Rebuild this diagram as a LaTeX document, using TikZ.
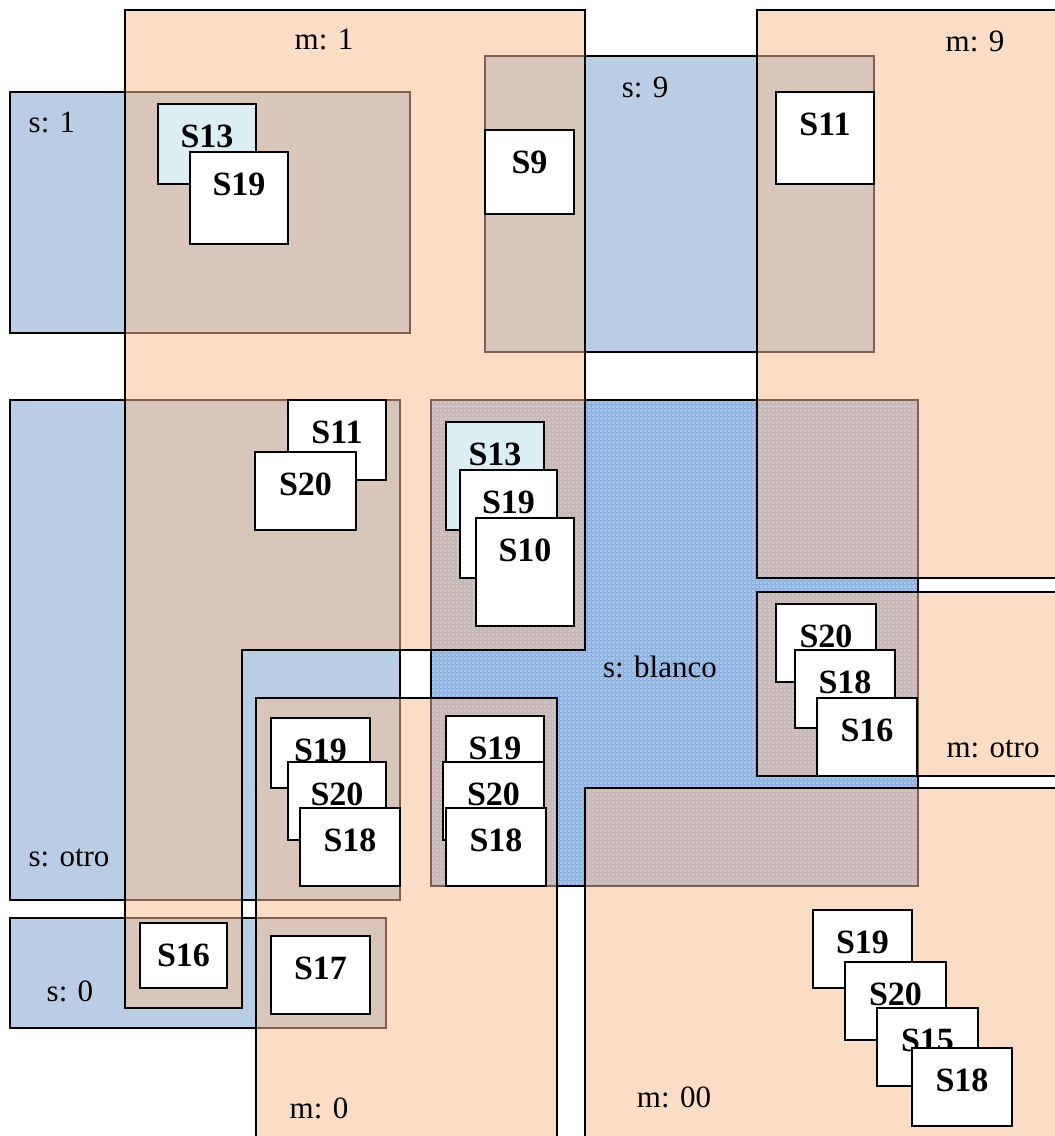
\documentclass[tikz,border=0pt]{standalone}
\usepackage{fontspec}
\setmainfont{Liberation Serif}
\usetikzlibrary{patterns}

% fine checker texture used for the "s: blanco" zone
\pgfdeclarepatternformonly{checks}{\pgfpointorigin}{\pgfqpoint{4pt}{4pt}}{\pgfqpoint{4pt}{4pt}}{%
  \pgfpathrectangle{\pgfpointorigin}{\pgfqpoint{2pt}{2pt}}%
  \pgfpathrectangle{\pgfqpoint{2pt}{2pt}}{\pgfqpoint{2pt}{2pt}}%
  \pgfusepath{fill}}

\begin{document}
\begin{tikzpicture}[x=1pt,y=-1pt,line join=miter]
  % Zones: m (peach), s (blue), overlaps (brown).
  \definecolor{mzone}{HTML}{FBDCC5}
  \definecolor{szone}{HTML}{B9CDE5}
  \definecolor{both}{HTML}{D9C5BA}
  \definecolor{bothline}{HTML}{7F6050}
  \definecolor{blanco}{HTML}{8AB0E0}
  \definecolor{blancodot}{HTML}{B7CFEE}
  \definecolor{bothhatch}{HTML}{C4B6BA}
  \definecolor{bothdot}{HTML}{DCC8BC}
  \definecolor{cardcyan}{HTML}{DBEEF4}
  \tikzset{
    card/.style={draw=black, line width=2pt, fill=white, anchor=north west,
      inner sep=0pt, outer sep=0pt},
    cardtxt/.style={anchor=base, yshift=-43.5pt, inner sep=0pt,
      font=\fontsize{34}{40}\selectfont\bfseries},
    zonetxt/.style={anchor=base, inner sep=0pt, font=\fontsize{31}{36}\selectfont}
  }
  \clip (0,0) rectangle (1055,1136);

  \def\mOne{(125,10) -- (585,10) -- (585,650) -- (242,650) -- (242,1008) -- (125,1008) -- cycle}
  \def\mNine{(757,10) rectangle (1070,578)}
  \def\mOtro{(757,592) rectangle (1070,776)}
  \def\mCero{(256,698) rectangle (557,1150)}
  \def\mCeroCero{(585,788) rectangle (1070,1150)}
  \def\sOne{(10,92) rectangle (410,333)}
  \def\sNine{(485,56) rectangle (874,352)}
  \def\sOtro{(10,400) rectangle (400,900)}
  \def\sCero{(10,918) rectangle (386,1028)}
  \def\sBlanco{(431,400) rectangle (918,886)}

  \fill[mzone] \mOne \mNine \mOtro \mCero \mCeroCero;
  \fill[szone] \sOne \sNine \sOtro \sCero;
  \fill[blanco] \sBlanco;
  \fill[pattern=checks, pattern color=blancodot] \sBlanco;
  \draw[line width=2pt] \sOne \sNine \sOtro \sCero \sBlanco;

  % where an s zone lies inside an m zone
  \begin{scope}
    \clip \mOne \mNine \mOtro \mCero \mCeroCero;
    \fill[both] \sOne \sNine \sOtro \sCero;
    \fill[bothhatch] \sBlanco;
    \fill[pattern=checks, pattern color=bothdot] \sBlanco;
    \draw[bothline, line width=2pt] \sOne \sNine \sOtro \sCero \sBlanco;
  \end{scope}
  \draw[line width=2pt] \mOne \mNine \mOtro \mCero \mCeroCero;

  % cards
  \node[card, fill=cardcyan, minimum width=98, minimum height=80, label={[cardtxt]north:S13}] (s13a) at (158,104) {};
  \node[card, minimum width=98, minimum height=92, label={[cardtxt]north:S19}] (s19a) at (190,152) {};
  \node[card, minimum width=89, minimum height=84, label={[cardtxt]north:S9}] (s9) at (485,130) {};
  \node[card, minimum width=98, minimum height=92, label={[cardtxt]north:S11}] (s11a) at (776,92) {};

  \node[card, minimum width=98, minimum height=80, label={[cardtxt]north:S11}] (s11b) at (288,400) {};
  \node[card, minimum width=101, minimum height=78, label={[cardtxt]north:S20}] (s20a) at (255,452) {};

  \node[card, fill=cardcyan, minimum width=98, minimum height=108, label={[cardtxt]north:S13}] (s13b) at (446,422) {};
  \node[card, minimum width=97, minimum height=108, label={[cardtxt]north:S19}] (s19b) at (460,470) {};
  \node[card, minimum width=98, minimum height=108, label={[cardtxt]north:S10}] (s10) at (476,518) {};

  \node[card, minimum width=100, minimum height=78, label={[cardtxt]north:S20}] (s20b) at (776,604) {};
  \node[card, minimum width=100, minimum height=78, label={[cardtxt]north:S18}] (s18a) at (795,650) {};
  \node[card, minimum width=100, minimum height=78, label={[cardtxt]north:S16}] (s16a) at (817,698) {};

  \node[card, minimum width=99, minimum height=70, label={[cardtxt]north:S19}] (s19c) at (271,718) {};
  \node[card, minimum width=98, minimum height=78, label={[cardtxt]north:S20}] (s20c) at (288,762) {};
  \node[card, minimum width=100, minimum height=78, label={[cardtxt]north:S18}] (s18b) at (300,808) {};

  \node[card, minimum width=98, minimum height=74, label={[cardtxt]north:S19}] (s19d) at (446,716) {};
  \node[card, minimum width=101, minimum height=78, label={[cardtxt]north:S20}] (s20d) at (443,762) {};
  \node[card, minimum width=100, minimum height=78, label={[cardtxt]north:S18}] (s18c) at (446,808) {};

  \node[card, minimum width=87, minimum height=65, label={[cardtxt]north:S16}] (s16b) at (140,923) {};
  \node[card, minimum width=99, minimum height=78, label={[cardtxt]north:S17}] (s17) at (271,936) {};

  \node[card, minimum width=99, minimum height=78, label={[cardtxt]north:S19}] (s19e) at (813,910) {};
  \node[card, minimum width=101, minimum height=78, label={[cardtxt]north:S20}] (s20e) at (845,962) {};
  \node[card, minimum width=101, minimum height=78, label={[cardtxt]north:S15}] (s15) at (877,1008) {};
  \node[card, minimum width=100, minimum height=78, label={[cardtxt]north:S18}] (s18d) at (912,1048) {};

  % zone names
  \node[zonetxt] (lm1) at (324,49) {m: 1};
  \node[zonetxt] (lm9) at (975,51) {m: 9};
  \node[zonetxt] (lmotro) at (993,757) {m: otro};
  \node[zonetxt] (lm0) at (319,1118) {m: 0};
  \node[zonetxt] (lm00) at (674,1107) {m: 00};
  \node[zonetxt] (ls1) at (52,132) {s: 1};
  \node[zonetxt] (ls9) at (645,97) {s: 9};
  \node[zonetxt] (lsblanco) at (660,677) {s: blanco};
  \node[zonetxt] (lsotro) at (69,866) {s: otro};
  \node[zonetxt] (ls0) at (70,1001) {s: 0};
\end{tikzpicture}
\end{document}
